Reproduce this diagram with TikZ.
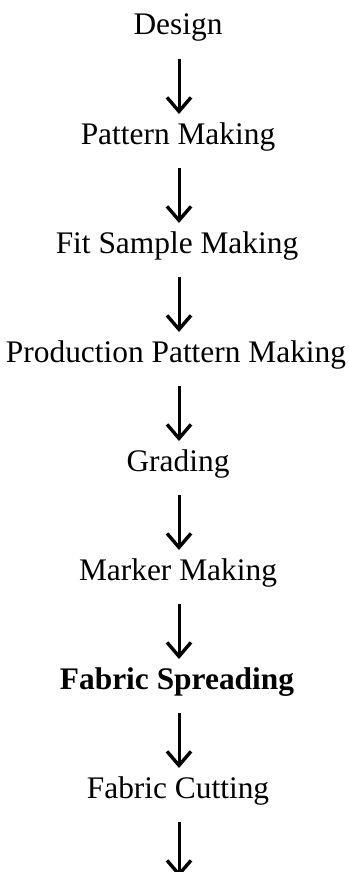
\documentclass[tikz,border=0pt]{standalone}
\usepackage{fontspec}
\setmainfont{Liberation Serif}
\usetikzlibrary{arrows.meta}
\begin{document}
\begin{tikzpicture}[x=1pt,y=-1pt,
  stage/.style={anchor=base,inner sep=0pt,font=\fontsize{31.4}{36}\selectfont},
  flow/.style={line width=3pt,-{Straight Barb[length=14pt,width=24pt,line width=3.4pt]}}]
\useasboundingbox (0,0) rectangle (348,872);
\node[stage] (s1) at (178,35) {Design};
\node[stage] (s2) at (178,144) {Pattern Making};
\node[stage] (s3) at (177,253) {Fit Sample Making};
\node[stage] (s4) at (176,362) {Production Pattern Making};
\node[stage] (s5) at (178,471) {Grading};
\node[stage] (s6) at (178,580) {Marker Making};
\node[stage] (s7) at (177,689) {\bfseries Fabric Spreading};
\node[stage] (s8) at (178,798) {Fabric Cutting};
\foreach \i/\j in {1/2,2/3,3/4,4/5,5/6,6/7,7/8}{
  \draw[flow] ([yshift=-24pt]s\i.base -| 179,0) -- ([yshift=30pt]s\j.base -| 179,0);
}
\coordinate (end) at (179,877);
\draw[flow] ([yshift=-24pt]s8.base -| 179,0) -- (end);
\end{tikzpicture}
\end{document}
